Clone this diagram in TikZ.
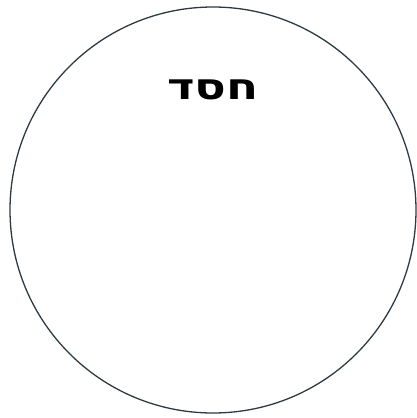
\documentclass[tikz,border=0pt]{standalone}
\usepackage{fontspec}
\usepackage{xcolor}
\usepackage{tikz}
\usetikzlibrary{positioning}
\newfontfamily\hebrewfont[Script=Hebrew]{DejaVu Sans}
\TeXXeTstate=1
\definecolor{ringcol}{HTML}{2E3A42}

\begin{document}
\begin{tikzpicture}[
        x=1pt, y=1pt,
        ring/.style={circle, draw=ringcol, line width=1.3pt, minimum size=406pt, inner sep=0pt},
        title/.style={font=\hebrewfont\bfseries\fontsize{36}{42}\selectfont, inner sep=0pt},
    ]
        \useasboundingbox (0,0) rectangle (416,-418);
        % Circle
        \node[ring] (chesed) at (213,-210) {};
        % Label
        \node[title, below=73pt of chesed.north] (label) {\scalebox{1.3}[1]{\beginR חסד\endR}};
    \end{tikzpicture}
\end{document}
